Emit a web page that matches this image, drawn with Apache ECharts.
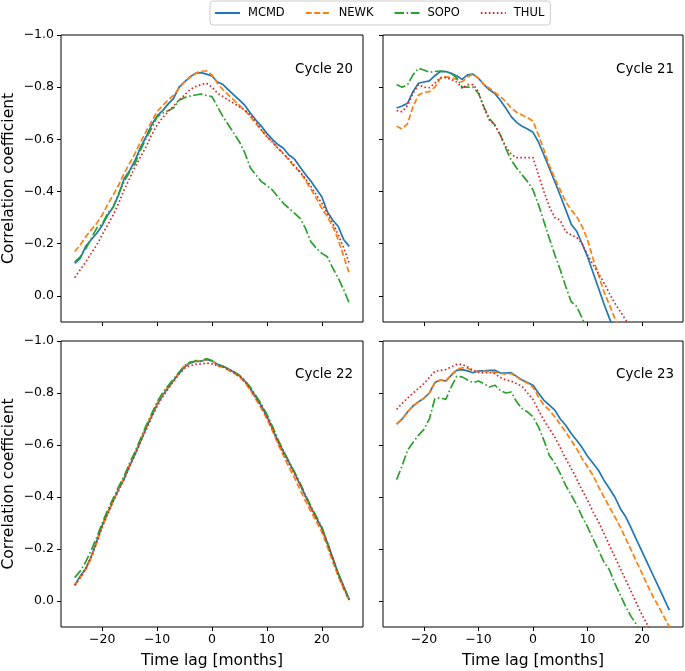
<!DOCTYPE html>
<html><head><meta charset="utf-8">
<script src="https://cdn.jsdelivr.net/npm/echarts@6/dist/echarts.min.js"></script>
<style>html,body{margin:0;padding:0;background:#fff}#chart{width:685px;height:671px}</style>
</head><body><div id="chart"></div>
<script>
const lags = [-25,-24,-23,-22,-21,-20,-19,-18,-17,-16,-15,-14,-13,-12,-11,-10,-9,-8,-7,-6,-5,-4,-3,-2,-1,0,
  1,2,3,4,5,6,7,8,9,10,11,12,13,14,15,16,17,18,19,20,21,22,23,24,25];
const seriesNames = ['MCMD','NEWK','SOPO','THUL'];
const cycleTitles = ['Cycle 20','Cycle 21','Cycle 22','Cycle 23'];
const xTicks = [-20,-10,0,10,20];
const yTicks = [-1.0,-0.8,-0.6,-0.4,-0.2,0.0];

// Cycle 20
const c20_mcmd = [-.125,-.144,-.19,-.215,-.24,-.27,-.31,-.34,-.387,-.45,-.48,-.52,-.57,-.61,-.655,-.69,-.71,-.735,-.757,-.80,-.82,-.84,-.853,-.856,-.85,-.843,
  -.82,-.81,-.79,-.77,-.75,-.73,-.70,-.674,-.65,-.623,-.60,-.58,-.566,-.54,-.525,-.495,-.466,-.44,-.41,-.38,-.323,-.29,-.266,-.215,-.19];
const c20_newk = [-.17,-.195,-.227,-.253,-.278,-.31,-.35,-.387,-.425,-.47,-.508,-.547,-.59,-.63,-.668,-.706,-.73,-.75,-.77,-.795,-.82,-.837,-.853,-.862,-.862,-.847,
  -.815,-.79,-.77,-.75,-.73,-.71,-.687,-.66,-.636,-.61,-.59,-.566,-.547,-.52,-.495,-.476,-.444,-.41,-.374,-.336,-.304,-.266,-.215,-.15,-.087];
const c20_sopo = [-.13,-.15,-.18,-.22,-.26,-.275,-.317,-.34,-.393,-.438,-.476,-.508,-.56,-.604,-.642,-.687,-.70,-.71,-.72,-.75,-.76,-.766,-.77,-.774,-.768,-.764,
  -.725,-.687,-.655,-.623,-.59,-.547,-.49,-.464,-.438,-.423,-.406,-.38,-.355,-.336,-.317,-.298,-.26,-.208,-.183,-.163,-.15,-.106,-.068,-.023,.028];
const c20_thul = [-.07,-.10,-.13,-.163,-.195,-.234,-.272,-.31,-.355,-.406,-.45,-.495,-.534,-.572,-.617,-.655,-.683,-.706,-.728,-.75,-.77,-.79,-.802,-.81,-.815,-.80,
  -.777,-.764,-.75,-.738,-.725,-.712,-.693,-.668,-.636,-.61,-.59,-.566,-.544,-.525,-.50,-.476,-.45,-.42,-.387,-.355,-.317,-.278,-.234,-.183,-.125];

// Cycle 21
const c21_mcmd = [-.72,-.728,-.738,-.783,-.815,-.82,-.824,-.844,-.86,-.86,-.853,-.844,-.83,-.847,-.85,-.834,-.81,-.79,-.776,-.75,-.72,-.687,-.665,-.65,-.64,-.627,
  -.59,-.54,-.49,-.438,-.385,-.33,-.275,-.248,-.20,-.15,-.09,-.03,.03,.085,.14];
const c21_newk = [-.65,-.64,-.66,-.725,-.77,-.78,-.783,-.80,-.834,-.84,-.837,-.83,-.82,-.84,-.85,-.834,-.81,-.796,-.78,-.764,-.745,-.72,-.704,-.693,-.683,-.67,
  -.617,-.56,-.50,-.45,-.406,-.36,-.33,-.304,-.266,-.215,-.144,-.08,-.017,.034,.086,.13];
const c21_sopo = [-.81,-.80,-.81,-.847,-.872,-.866,-.857,-.86,-.862,-.86,-.853,-.836,-.80,-.80,-.80,-.776,-.725,-.68,-.655,-.617,-.566,-.52,-.49,-.464,-.438,-.406,
  -.35,-.285,-.22,-.157,-.10,-.036,.022,.04,.085,.13];
const c21_thul = [-.71,-.706,-.73,-.776,-.81,-.80,-.798,-.815,-.837,-.837,-.83,-.82,-.796,-.81,-.81,-.783,-.72,-.674,-.655,-.617,-.572,-.543,-.53,-.53,-.53,-.53,
  -.464,-.40,-.342,-.30,-.29,-.246,-.234,-.224,-.20,-.157,-.12,-.087,-.05,-.01,.028,.06,.092,.125];

// Cycle 22
const c22_mcmd = [-.062,-.095,-.125,-.17,-.23,-.29,-.34,-.385,-.43,-.47,-.52,-.565,-.615,-.665,-.71,-.755,-.79,-.82,-.848,-.875,-.90,-.915,-.922,-.922,-.928,-.923,
  -.91,-.903,-.892,-.88,-.866,-.845,-.817,-.785,-.75,-.71,-.665,-.615,-.575,-.535,-.495,-.45,-.405,-.36,-.32,-.28,-.225,-.165,-.105,-.055,-.005];
const c22_newk = [-.06,-.09,-.12,-.165,-.225,-.285,-.335,-.385,-.43,-.475,-.525,-.57,-.62,-.67,-.715,-.76,-.795,-.825,-.85,-.878,-.905,-.918,-.925,-.923,-.93,-.925,
  -.905,-.898,-.888,-.877,-.862,-.84,-.81,-.775,-.74,-.70,-.655,-.605,-.56,-.515,-.475,-.43,-.385,-.345,-.305,-.265,-.21,-.15,-.095,-.045,0];
const c22_sopo = [-.09,-.115,-.15,-.195,-.245,-.30,-.35,-.395,-.44,-.48,-.53,-.575,-.625,-.675,-.72,-.765,-.80,-.828,-.855,-.88,-.905,-.918,-.923,-.924,-.932,-.925,
  -.91,-.903,-.893,-.882,-.868,-.848,-.822,-.79,-.757,-.718,-.672,-.622,-.578,-.537,-.497,-.455,-.41,-.365,-.325,-.285,-.225,-.165,-.105,-.055,-.005];
const c22_thul = [-.06,-.09,-.125,-.17,-.225,-.285,-.335,-.382,-.425,-.468,-.518,-.563,-.612,-.66,-.705,-.75,-.785,-.815,-.845,-.872,-.895,-.905,-.91,-.912,-.915,-.912,
  -.905,-.90,-.89,-.878,-.865,-.845,-.815,-.782,-.748,-.708,-.662,-.612,-.57,-.53,-.49,-.448,-.402,-.358,-.318,-.278,-.222,-.162,-.10,-.05,-.003];

// Cycle 23
const c23_mcmd = [-.68,-.70,-.727,-.75,-.766,-.78,-.80,-.84,-.85,-.846,-.868,-.887,-.89,-.885,-.878,-.885,-.885,-.887,-.887,-.877,-.877,-.878,-.864,-.85,-.84,-.83,
  -.80,-.772,-.753,-.734,-.70,-.676,-.644,-.618,-.59,-.557,-.53,-.503,-.465,-.433,-.40,-.356,-.324,-.28,-.234,-.19,-.145,-.10,-.055,-.01,.035];
const c23_newk = [-.68,-.70,-.727,-.75,-.766,-.78,-.80,-.838,-.85,-.846,-.87,-.89,-.897,-.895,-.885,-.882,-.883,-.882,-.88,-.875,-.872,-.875,-.862,-.848,-.838,-.822,
  -.785,-.753,-.734,-.708,-.68,-.65,-.618,-.585,-.548,-.516,-.484,-.44,-.40,-.362,-.324,-.285,-.24,-.196,-.15,-.106,-.06,-.017,.02,.06,.10];
const c23_sopo = [-.467,-.52,-.58,-.61,-.637,-.66,-.70,-.778,-.782,-.775,-.823,-.864,-.862,-.85,-.84,-.846,-.836,-.823,-.83,-.81,-.80,-.804,-.766,-.74,-.727,-.708,
  -.67,-.618,-.56,-.53,-.49,-.445,-.407,-.37,-.324,-.285,-.24,-.196,-.15,-.12,-.068,-.023,.022,.06,.092,.13];
const c23_thul = [-.737,-.76,-.78,-.80,-.817,-.836,-.86,-.883,-.887,-.89,-.90,-.91,-.91,-.90,-.887,-.88,-.877,-.88,-.874,-.86,-.85,-.846,-.836,-.826,-.80,-.775,
  -.734,-.695,-.663,-.63,-.59,-.548,-.51,-.47,-.426,-.388,-.343,-.305,-.26,-.215,-.17,-.125,-.08,-.036,.01,.054,.092,.13];

const panels = [
  [c20_mcmd, c20_newk, c20_sopo, c20_thul],
  [c21_mcmd, c21_newk, c21_sopo, c21_thul],
  [c22_mcmd, c22_newk, c22_sopo, c22_thul],
  [c23_mcmd, c23_newk, c23_sopo, c23_thul]
];

const colors = ['#1f77b4','#ff7f0e','#2ca02c','#d62728'];
const dashes = ['solid',[6,2.6],[9.5,2.6,1.6,2.6],[1.6,2.4]];
const FONT = 'DejaVu Sans';
const gridBoxes = [
  {left:61, top:35, width:302, height:287},
  {left:383, top:35, width:300, height:287},
  {left:61, top:341, width:302, height:286},
  {left:383, top:341, width:300, height:286}
];
const minus = s => s.replace('-', '\u2212');

const grid = gridBoxes.map(g => Object.assign({show:true, borderColor:'#000', borderWidth:1, backgroundColor:'transparent'}, g));
const xAxis = gridBoxes.map((g,i) => ({
  type:'value', gridIndex:i, min:-27.5, max:27.5, position:'bottom',
  axisLine:{show:false, onZero:false},
  axisTick:{show:true, inside:false, length:4, lineStyle:{color:'#000', width:1}, customValues:xTicks},
  axisLabel:{show:i>=2, customValues:xTicks, formatter:v=>minus(String(v)), fontSize:12.5, color:'#000', fontFamily:FONT, margin:6},
  splitLine:{show:false},
  name: i>=2 ? 'Time lag [months]' : '',
  nameLocation:'middle', nameGap:26,
  nameTextStyle:{fontSize:15.5, color:'#000', fontFamily:FONT}
}));
const yAxis = gridBoxes.map((g,i) => ({
  type:'value', gridIndex:i, min:-1.0, max:0.1, inverse:true, position:'left',
  axisLine:{show:false, onZero:false},
  axisTick:{show:true, inside:false, length:4, lineStyle:{color:'#000', width:1}, customValues:yTicks},
  axisLabel:{show:i%2===0, customValues:yTicks, formatter:v=>minus(v.toFixed(1)), fontSize:12.5, color:'#000', fontFamily:FONT, margin:7},
  splitLine:{show:false},
  name: i%2===0 ? 'Correlation coefficient' : '',
  nameLocation:'middle', nameGap:44, nameRotate:90,
  nameTextStyle:{fontSize:15.5, color:'#000', fontFamily:FONT}
}));

const series = [];
panels.forEach((sets, i) => {
  sets.forEach((arr, j) => {
    series.push({
      name: seriesNames[j], type:'line', xAxisIndex:i, yAxisIndex:i,
      data: arr.map((v,k) => [lags[k], v]),
      symbol:'none', showSymbol:false, clip:true, animation:false,
      lineStyle:{color:colors[j], width:1.7, type:dashes[j]},
      itemStyle:{color:colors[j]},
      emphasis:{disabled:true}
    });
  });
});

const titlePos = [[353,70],[674,70],[353,375],[674,375]];
const graphic = cycleTitles.map((t,i) => ({
  type:'text', x:titlePos[i][0], y:titlePos[i][1],
  style:{text:t, fill:'#000', font:'13.4px "DejaVu Sans"', textAlign:'right', textVerticalAlign:'middle'}
}));

const chart = echarts.init(document.getElementById('chart'), null, {renderer:'canvas'});
chart.setOption({
  animation:false,
  grid, xAxis, yAxis, series, graphic,
  legend:{
    data: seriesNames, left:210, top:1,
    itemWidth:25, itemHeight:12, itemGap:20,
    padding:[6,6,6,4],
    itemStyle:{opacity:0},
    borderColor:'#ccc', borderWidth:1, borderRadius:3, backgroundColor:'#fff',
    textStyle:{fontSize:11.5, color:'#000', fontFamily:FONT, padding:[0,0,0,3]}
  }
});
</script></body></html>
